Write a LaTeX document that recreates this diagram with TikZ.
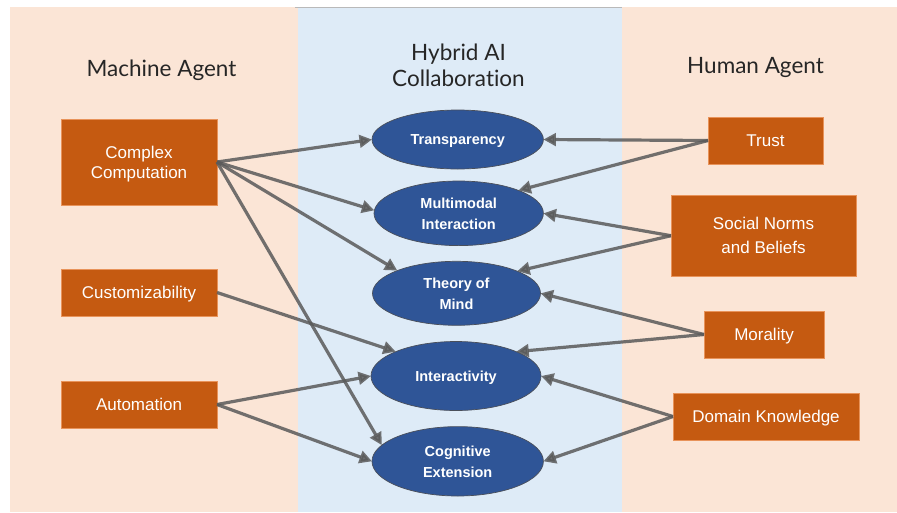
\documentclass[tikz,border=0pt]{standalone}
\usepackage{fontspec}
\setmainfont{Liberation Sans}
\newfontfamily\headfont[Ligatures=NoCommon]{Lato}
\usetikzlibrary{shapes.geometric,arrows.meta}

\definecolor{peach}{HTML}{FBE5D6}
\definecolor{paleblue}{HTML}{DEEBF7}
\definecolor{rust}{HTML}{C55A11}
\definecolor{rustedge}{HTML}{E8935A}
\definecolor{navy}{HTML}{2F5597}
\definecolor{navyedge}{HTML}{4A4F5A}
\definecolor{linkgray}{HTML}{5A5A5A}
\definecolor{headink}{HTML}{262626}

\tikzset{
  factor/.style={rectangle, fill=rust, draw=rustedge, line width=0.6pt,
    text=white, font=\fontsize{17}{20}\selectfont, align=center,
    text depth=0pt, inner sep=0pt, outer sep=0pt},
  concept/.style={ellipse, fill=navy, draw=navyedge, line width=0.7pt,
    text=white, font=\bfseries\fontsize{14.5}{21}\selectfont, align=center,
    text depth=0pt, inner sep=0pt, outer sep=0pt},
  heading/.style={font=\headfont\fontsize{22.5}{26}\selectfont, text=headink,
    align=center, inner sep=0pt},
  link/.style={draw=linkgray, line width=3.2pt, opacity=0.85,
    -{Triangle[length=12.5pt,width=12.5pt]}}
}

\begin{document}
\begin{tikzpicture}[x=1pt,y=-1pt]
  \useasboundingbox (0,0) rectangle (897,512);

  % column backgrounds
  \fill[peach] (10,7) rectangle (297.5,512);
  \fill[paleblue] (297.5,7) rectangle (621.7,512);
  \fill[peach] (621.7,7) rectangle (897,512);
  \draw[gray!55, line width=1pt] (295,7.5) -- (621.7,7.5);

  % column headings
  \node[heading, anchor=base] (hmach) at (161.5,76) {Machine Agent};
  \node[heading] (hhyb) at (458.5,65.4) {Hybrid AI\\Collaboration};
  \node[heading, anchor=base] (hhum) at (755.5,73.3) {Human Agent};

  % machine-side factors
  \node[factor, minimum width=156, minimum height=86] (cc) at (139,162)
    {Complex\\Computation};
  \node[factor, minimum width=156, minimum height=47] (cust) at (139,292.5)
    {Customizability};
  \node[factor, minimum width=156, minimum height=47] (auto) at (139,404.5)
    {Automation};

  % human-side factors
  \node[factor, minimum width=115, minimum height=47] (trust) at (765.5,140.5)
    {Trust};
  \node[factor, minimum width=185, minimum height=81,
        font=\fontsize{17}{24}\selectfont] (social) at (763.5,235.7)
    {Social Norms\\and Beliefs};
  \node[factor, minimum width=120, minimum height=47] (moral) at (764,334.5)
    {Morality};
  \node[factor, minimum width=186, minimum height=47] (dk) at (766,416.5)
    {Domain Knowledge};

  % collaboration concepts
  \node[concept, minimum width=171.4, minimum height=59] (trans) at (457.7,139.5)
    {Transparency};
  \node[concept, minimum width=169.4, minimum height=64.6] (multi) at (458.7,213.3)
    {Multimodal\\Interaction};
  \node[concept, minimum width=168, minimum height=64] (tom) at (456.5,293.3)
    {Theory of\\Mind};
  \node[concept, minimum width=170, minimum height=69] (inter) at (456,376)
    {Interactivity};
  \node[concept, minimum width=171.4, minimum height=69.4] (cogn) at (457.7,461.3)
    {Cognitive\\Extension};

  % machine-side links
  \draw[link] (cc.east) -- (trans.west);
  \draw[link] (cc.east) -- (multi.178);
  \draw[link] (cc.east) -- (tom.159);
  \draw[link] (cc.east) -- (cogn.168);
  \draw[link] (cust.east) -- (inter.158);
  \draw[link] (auto.east) -- (inter.west);
  \draw[link] (auto.east) -- (cogn.west);

  % human-side links
  \draw[link] (trust.west) -- (trans.east);
  \draw[link] (trust.west) -- (multi.21);
  \draw[link] (social.west) -- (multi.east);
  \draw[link] (social.west) -- (tom.20);
  \draw[link] (moral.west) -- (tom.east);
  \draw[link] (moral.west) -- (inter.22);
  \draw[link] (dk.west) -- (inter.east);
  \draw[link] (dk.west) -- (cogn.east);
\end{tikzpicture}
\end{document}
